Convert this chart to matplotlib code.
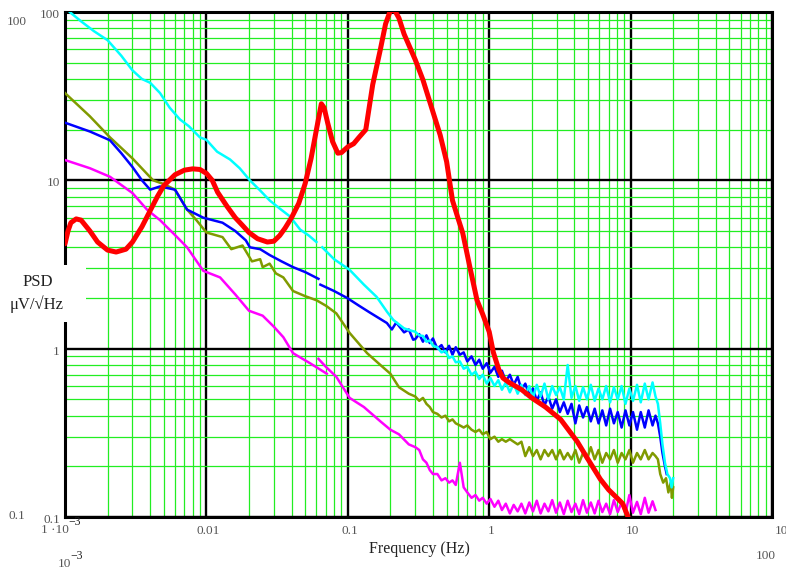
import numpy as np
import matplotlib
matplotlib.use('Agg')
import matplotlib.pyplot as plt
from matplotlib.ticker import LogLocator, NullFormatter
from matplotlib.patches import Rectangle
from matplotlib import transforms

# ---------------- data ----------------
nan = float('nan')

# shared frequency grid of the noisy high-frequency part (Hz)
f_hf = [0.30, 0.32, 0.34, 0.36, 0.38, 0.40, 0.43, 0.46, 0.49, 0.52,
        0.55, 0.58, 0.62, 0.66, 0.70, 0.75, 0.80, 0.85, 0.90, 0.96,
        1.02, 1.09, 1.16, 1.23, 1.31, 1.40, 1.49, 1.59, 1.69, 1.80,
        1.92, 2.04, 2.17, 2.31, 2.46, 2.62, 2.79, 2.97, 3.16, 3.37,
        3.59, 3.82, 4.07, 4.33, 4.61, 4.91, 5.23, 5.57, 5.93, 6.31,
        6.72, 7.16, 7.62, 8.11, 8.64, 9.20, 9.80, 10.4, 11.1, 11.8,
        12.6, 13.4, 14.3, 15.0]

# red (thick, smooth)
red_f = [0.001, 0.00105, 0.0011, 0.0012, 0.0013, 0.0015, 0.0017, 0.002, 0.0023, 0.0027,
         0.003, 0.0035, 0.004, 0.0045, 0.005, 0.006, 0.007, 0.008, 0.009, 0.010,
         0.011, 0.012, 0.014, 0.016, 0.018, 0.020, 0.023, 0.027, 0.030, 0.033,
         0.036, 0.040, 0.045, 0.050, 0.055, 0.060, 0.065, 0.068, 0.072, 0.078,
         0.085, 0.090, 0.100, 0.110, 0.120, 0.134, 0.150, 0.170, 0.185, 0.200,
         0.215, 0.230, 0.250, 0.300, 0.340, 0.400, 0.450, 0.500, 0.550, 0.600,
         0.650, 0.730, 0.820, 0.900, 1.000, 1.070, 1.170, 1.250, 1.380, 1.700,
         2.000, 2.500, 3.200, 4.200, 5.000, 6.100, 7.000, 8.000, 8.800, 9.600]
red_v = [4.2, 5.0, 5.6, 5.9, 5.8, 5.0, 4.3, 3.85, 3.75, 3.9,
         4.3, 5.3, 6.6, 8.0, 9.3, 10.8, 11.5, 11.7, 11.6, 11.0,
         10.0, 8.5, 7.0, 6.0, 5.4, 4.9, 4.5, 4.3, 4.35, 4.7,
         5.2, 6.0, 7.3, 9.6, 13.5, 20.0, 28.5, 27.0, 22.0, 17.0,
         14.5, 14.6, 15.8, 16.5, 18.0, 20.0, 37.0, 60.0, 85.0, 102.0,
         102.0, 92.0, 74.0, 52.0, 39.5, 25.5, 18.6, 12.9, 7.6, 6.0,
         4.86, 3.05, 1.94, 1.6, 1.26, 0.95, 0.75, 0.67, 0.63, 0.57,
         0.51, 0.45, 0.38, 0.28, 0.22, 0.168, 0.145, 0.13, 0.12, 0.10]

# cyan
cyan_f_lo = [0.001, 0.00108, 0.0013, 0.0016, 0.002, 0.0025, 0.003, 0.0035, 0.004, 0.0047,
             0.0055, 0.0065, 0.0075, 0.009, 0.010, 0.0119, 0.0147, 0.0172, 0.0203, 0.024,
             0.028, 0.033, 0.039, 0.046, 0.053, 0.060, nan, 0.066, 0.080, 0.103,
             0.130, 0.160, 0.190, 0.210, 0.250, 0.280]
cyan_v_lo = [108, 100, 88, 77, 68, 55, 45, 40, 38, 33,
             27, 23, 21, 18, 17.4, 14.8, 13.3, 11.8, 10.0, 8.7,
             7.6, 6.8, 6.1, 5.1, 4.7, 4.3, nan, 4.0, 3.4, 2.94,
             2.4, 2.03, 1.65, 1.48, 1.32, 1.28]
cyan_v_hf = [1.26, 1.20, 1.19, 1.10, 1.12, 1.04, 1.02, 0.95, 0.97, 0.88,
             0.90, 0.83, 0.84, 0.76, 0.78, 0.70, 0.73, 0.66, 0.70, 0.62,
             0.67, 0.60, 0.65, 0.57, 0.63, 0.55, 0.62, 0.54, 0.61, 0.53,
             0.60, 0.51, 0.61, 0.52, 0.62, 0.50, 0.60, 0.53, 0.59, 0.50,
             0.80, 0.51, 0.60, 0.49, 0.59, 0.50, 0.61, 0.49, 0.58, 0.50,
             0.60, 0.48, 0.59, 0.50, 0.60, 0.47, 0.58, 0.49, 0.61, 0.48,
             0.62, 0.50, 0.63, 0.52]
cyan_f_tail = [15.6, 16.2, 16.8, 17.5, 18.2, 19.0, 19.5, 20.0]
cyan_v_tail = [0.47, 0.36, 0.27, 0.21, 0.18, 0.17, 0.15, 0.17]

# blue
blue_f_lo = [0.001, 0.0015, 0.00208, 0.0025, 0.003, 0.0035, 0.004, 0.0047, 0.006, 0.0073,
             0.0095, 0.013, 0.016, 0.019, 0.0203, 0.024, 0.028, 0.034, 0.041, 0.050,
             0.062, nan, 0.064, 0.080, 0.099, 0.120, 0.143, 0.170, 0.189, 0.205,
             0.220, 0.250, 0.270, 0.290]
blue_v_lo = [22, 19.5, 17.3, 14.5, 12, 10, 8.8, 9.2, 8.8, 6.7,
             6.0, 5.6, 5.0, 4.4, 4.0, 3.9, 3.6, 3.3, 3.05, 2.85,
             2.6, nan, 2.4, 2.2, 2.0, 1.8, 1.64, 1.50, 1.42, 1.30,
             1.43, 1.25, 1.30, 1.13]
blue_v_hf = [1.14, 1.22, 1.10, 1.20, 1.08, 1.15, 1.00, 1.05, 0.95, 1.04,
             0.92, 1.02, 0.92, 0.95, 0.84, 0.90, 0.80, 0.86, 0.76, 0.82,
             0.72, 0.78, 0.68, 0.74, 0.64, 0.70, 0.61, 0.68, 0.57, 0.62,
             0.53, 0.58, 0.49, 0.55, 0.46, 0.52, 0.44, 0.50, 0.42, 0.48,
             0.41, 0.47, 0.36, 0.46, 0.39, 0.45, 0.37, 0.44, 0.36, 0.43,
             0.35, 0.44, 0.36, 0.42, 0.34, 0.43, 0.35, 0.42, 0.33, 0.42,
             0.34, 0.43, 0.35, 0.40]
blue_f_tail = [15.6, 16.2, 16.8, 17.5, 18.0]
blue_v_tail = [0.36, 0.30, 0.24, 0.20, 0.18]

# olive
olive_f_lo = [0.001, 0.0015, 0.00208, 0.003, 0.0042, 0.005, 0.006, 0.0073, 0.0085, 0.010,
              0.013, 0.015, 0.018, 0.021, 0.024, 0.025, 0.028, 0.031, 0.035, 0.041,
              0.050, 0.060, 0.070, 0.083, 0.103, 0.137, 0.170, 0.200, 0.230, 0.270]
olive_v_lo = [33, 24, 18, 13.5, 10, 9.5, 8.8, 6.7, 5.8, 4.9,
              4.6, 3.9, 4.1, 3.3, 3.4, 3.05, 3.2, 2.8, 2.65, 2.2,
              2.05, 1.94, 1.8, 1.62, 1.24, 0.94, 0.80, 0.71, 0.59, 0.54]
olive_v_hf = [0.52, 0.49, 0.51, 0.47, 0.45, 0.42, 0.41, 0.39, 0.40, 0.37,
              0.38, 0.36, 0.35, 0.34, 0.35, 0.33, 0.32, 0.33, 0.31, 0.32,
              0.29, 0.30, 0.28, 0.29, 0.28, 0.29, 0.28, 0.27, 0.28, 0.23,
              0.26, 0.23, 0.25, 0.22, 0.25, 0.23, 0.25, 0.22, 0.25, 0.22,
              0.24, 0.22, 0.25, 0.21, 0.24, 0.22, 0.26, 0.22, 0.25, 0.21,
              0.24, 0.22, 0.25, 0.21, 0.24, 0.22, 0.25, 0.21, 0.24, 0.22,
              0.25, 0.22, 0.24, 0.23]
olive_f_tail = [15.6, 16.2, 17.0, 17.8, 18.5, 19.2, 19.6, 20.0]
olive_v_tail = [0.22, 0.18, 0.16, 0.17, 0.14, 0.16, 0.13, 0.15]

# magenta
mag_f_lo = [0.001, 0.0015, 0.00208, 0.003, 0.0038, 0.0047, 0.0062, 0.0073, 0.0095, 0.0125,
            0.016, 0.020, 0.025, 0.030, 0.035, 0.041, 0.054, 0.071, nan, 0.062,
            0.070, 0.083, 0.103, 0.130, 0.170, 0.200, 0.230, 0.270]
mag_v_lo = [13.2, 11.8, 10.5, 8.4, 6.7, 5.8, 4.6, 4.0, 2.9, 2.65,
            2.1, 1.68, 1.57, 1.35, 1.17, 0.94, 0.82, 0.71, nan, 0.87,
            0.78, 0.68, 0.51, 0.45, 0.37, 0.33, 0.31, 0.27]
mag_v_hf = [0.26, 0.25, 0.22, 0.21, 0.19, 0.18, 0.18, 0.165, 0.17, 0.16,
            0.165, 0.155, 0.21, 0.15, 0.14, 0.13, 0.135, 0.125, 0.13, 0.12,
            0.128, 0.115, 0.125, 0.11, 0.12, 0.105, 0.118, 0.108, 0.12, 0.105,
            0.122, 0.108, 0.125, 0.105, 0.12, 0.108, 0.126, 0.106, 0.122, 0.104,
            0.125, 0.107, 0.12, 0.104, 0.126, 0.106, 0.122, 0.105, 0.125, 0.107,
            0.12, 0.104, 0.126, 0.107, 0.122, 0.105, 0.135, 0.106, 0.123, 0.104,
            0.13, 0.106, 0.124, 0.11]

# tick labels
y_ticks = [100, 10, 1, 0.1]
y_tick_labels = ['100', '10', '1', '0.1']
x_ticks = [0.01, 0.1, 1, 10]
x_tick_labels = ['0.01', '0.1', '1', '10']

# ---------------- figure ----------------
plt.rcParams['font.family'] = ['Liberation Serif', 'DejaVu Serif']
W, H = 786, 573
fig = plt.figure(figsize=(W / 100, H / 100), dpi=100)
ax = fig.add_axes([65 / W, 56 / H, 707 / W, 505 / H])
ax.set_xscale('log')
ax.set_yscale('log')
ax.set_xlim(1e-3, 100)
ax.set_ylim(0.1, 100)
for a in (ax.xaxis, ax.yaxis):
    a.set_major_locator(LogLocator(base=10, numticks=20))
    a.set_minor_locator(LogLocator(base=10, subs=np.arange(2, 10), numticks=20))
    a.set_minor_formatter(NullFormatter())
ax.grid(which='minor', color='#22ee22', lw=0.9)
ax.grid(which='major', color='black', lw=1.7)
ax.set_axisbelow(True)
ax.tick_params(which='both', length=0, labelbottom=False, labelleft=False)
for s in ax.spines.values():
    s.set_linewidth(2.2)
    s.set_color('black')

lw = 1.8
ax.plot(mag_f_lo + f_hf, mag_v_lo + mag_v_hf, color='#ff00ff', lw=lw, zorder=3)
ax.plot(olive_f_lo + f_hf + olive_f_tail, olive_v_lo + olive_v_hf + olive_v_tail,
        color='#809a00', lw=lw, zorder=3)
ax.plot(blue_f_lo + f_hf + blue_f_tail, blue_v_lo + blue_v_hf + blue_v_tail,
        color='#0000ff', lw=lw, zorder=3)
ax.plot(cyan_f_lo + f_hf + cyan_f_tail, cyan_v_lo + cyan_v_hf + cyan_v_tail,
        color='#00ffff', lw=lw, zorder=3)
ax.plot(red_f, red_v, color='#ff0000', lw=3.6, zorder=4, solid_capstyle='round')

# ---------------- texts ----------------
tick_col = '#555555'
ylab_tr = transforms.blended_transform_factory(ax.transAxes, ax.transData)
for v, lab in zip(y_ticks, y_tick_labels):
    off = transforms.offset_copy(ylab_tr, fig=fig, x=-5, y=-3, units='dots')
    ax.text(0, v, lab, transform=off, ha='right', va='center', fontsize=9.5, color=tick_col)

xlab_tr = transforms.blended_transform_factory(ax.transData, ax.transAxes)
for v, lab in zip(x_ticks, x_tick_labels):
    off = transforms.offset_copy(xlab_tr, fig=fig, x=2, y=-14, units='dots')
    ax.text(v, 0, lab, transform=off, ha='center', va='center', fontsize=9.5, color=tick_col)
off = transforms.offset_copy(xlab_tr, fig=fig, x=3, y=-14, units='dots')
ax.text(100, 0, '100', transform=off, ha='left', va='center', fontsize=9.5, color=tick_col)
off = transforms.offset_copy(xlab_tr, fig=fig, x=-10, y=-13, units='dots')
ax.text(1e-3, 0, '1 \u00b710', transform=off, ha='center', va='center', fontsize=9.5, color=tick_col)
off = transforms.offset_copy(xlab_tr, fig=fig, x=10, y=-5, units='dots')
ax.text(1e-3, 0, '\u22123', transform=off, ha='center', va='center', fontsize=8.5, color='#222222')

def ftext(x, y, s, **kw):
    fig.text(x / W, 1 - y / H, s, **kw)

# duplicated outer limits
ftext(17, 22, '100', ha='center', va='center', fontsize=9.5, color=tick_col)
ftext(17, 516, '0.1', ha='center', va='center', fontsize=9.5, color=tick_col)
ftext(64, 564, '10', ha='center', va='center', fontsize=9.5, color=tick_col)
ftext(77, 556, '\u22123', ha='center', va='center', fontsize=8.5, color='#222222')
ftext(766, 556, '100', ha='center', va='center', fontsize=9.5, color=tick_col)

# axis labels
ftext(419, 549, 'Frequency (Hz)', ha='center', va='center', fontsize=11.5, color='#222222')
fig.add_artist(Rectangle((0, 1 - 322 / H), 86 / W, 57 / H, transform=fig.transFigure,
                         facecolor='white', edgecolor='none', zorder=5))
ftext(38, 282, 'PSD', ha='center', va='center', fontsize=12, color='#222222', zorder=6)
ftext(37, 304, '\u03bcV/\u221aHz', ha='center', va='center', fontsize=12, color='#222222', zorder=6)

fig.savefig('out.png', dpi=100)
